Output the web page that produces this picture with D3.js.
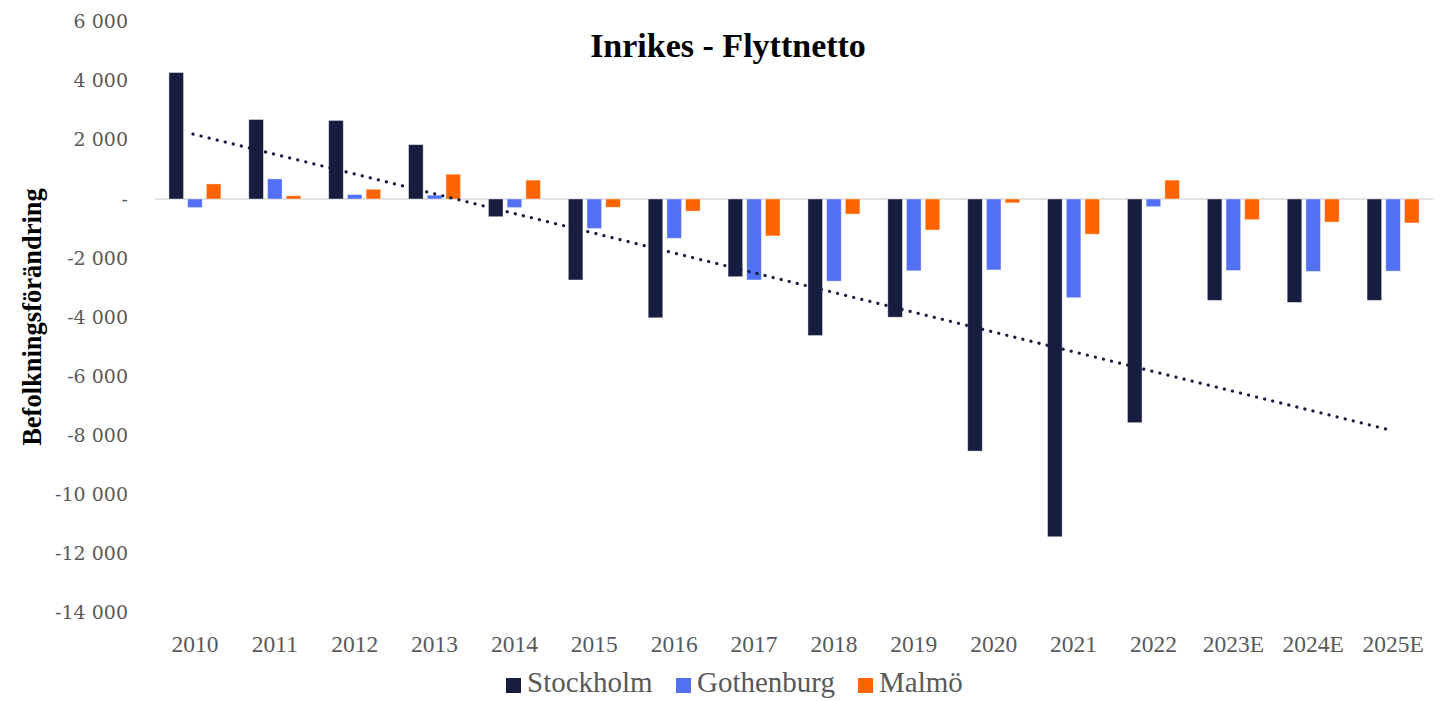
<!DOCTYPE html>
<html>
<head>
<meta charset="utf-8">
<script src="https://cdn.jsdelivr.net/npm/d3@7"></script>
<style>
  body { margin: 0; background: #fff; }
</style>
</head>
<body>
<div id="chart"></div>
<script>
  var years = ["2010", "2011", "2012", "2013", "2014", "2015", "2016", "2017",
    "2018", "2019", "2020", "2021", "2022", "2023E", "2024E", "2025E"];
  var seriesNames = ["Stockholm", "Gothenburg", "Malmö"];
  var stockholm = [4280, 2690, 2660, 1840, -600, -2740, -4020, -2630,
    -4620, -4000, -8530, -11430, -7570, -3430, -3500, -3430];
  var gothenburg = [-290, 680, 150, 130, -290, -1000, -1330, -2740,
    -2780, -2430, -2400, -3340, -260, -2420, -2450, -2440];
  var malmo = [510, 110, 330, 840, 640, -280, -410, -1250,
    -510, -1050, -130, -1190, 640, -700, -780, -810];
  var yTicks = [6000, 4000, 2000, 0, -2000, -4000, -6000, -8000, -10000, -12000, -14000];
  var colors = ["#171d3e", "#5170f3", "#ff6400"];

  var width = 1445,
    height = 701;

  var svg = d3.select("#chart").append("svg")
    .attr("width", width)
    .attr("height", height);

  var x = d3.scaleBand()
    .domain(years)
    .range([155, 1433])
    .paddingInner(0)
    .paddingOuter(0);

  var y = d3.scaleLinear()
    .domain([-14000, 6000])
    .range([612.7, 21.7]);

  var xSub = d3.scaleBand()
    .domain(seriesNames)
    .range([-26, 26])
    .paddingInner(0.22)
    .paddingOuter(0);

  var fmt = function(d) {
    if (d === 0) return "-";
    return (d < 0 ? "-" : "") + d3.format(",")(Math.abs(d)).replace(/,/g, " ");
  };

  // y tick labels (no axis line in the original)
  var yAxis = svg.append("g")
    .attr("transform", "translate(128,0)")
    .call(d3.axisLeft(y).tickValues(yTicks).tickFormat(fmt).tickSize(0).tickPadding(0));
  yAxis.select(".domain").remove();
  yAxis.selectAll("text")
    .attr("font-family", "'DejaVu Serif', serif")
    .attr("font-size", "19px")
    .attr("fill", "#595959");

  // zero line
  svg.append("line")
    .attr("x1", x.range()[0])
    .attr("x2", x.range()[1])
    .attr("y1", y(0))
    .attr("y2", y(0))
    .attr("stroke", "#d9d9d9")
    .attr("stroke-width", 1.5);

  var rows = years.map(function(yr, i) {
    return { year: yr, values: [stockholm[i], gothenburg[i], malmo[i]] };
  });

  var groups = svg.append("g")
    .selectAll("g")
    .data(rows)
    .enter().append("g")
      .attr("transform", function(d) { return "translate(" + (x(d.year) + x.bandwidth() / 2) + ",0)"; });

  groups.selectAll("rect")
    .data(function(d) { return d.values.map(function(v, j) { return { name: seriesNames[j], value: v, j: j }; }); })
    .enter().append("rect")
      .attr("x", function(d) { return xSub(d.name); })
      .attr("width", xSub.bandwidth())
      .attr("y", function(d) { return y(Math.max(0, d.value)); })
      .attr("height", function(d) { return Math.abs(y(d.value) - y(0)); })
      .attr("fill", function(d) { return colors[d.j]; })
      .attr("stroke", "#ffffff")
      .attr("stroke-opacity", 0.5)
      .attr("stroke-width", 0.8);

  // linear trendline for Stockholm (least squares)
  var n = stockholm.length;
  var mx = d3.mean(d3.range(n)), my = d3.mean(stockholm);
  var sxy = d3.sum(stockholm, function(v, i) { return (i - mx) * (v - my); });
  var sxx = d3.sum(d3.range(n), function(i) { return (i - mx) * (i - mx); });
  var slope = sxy / sxx, icpt = my - slope * mx;

  var trend = [0, n - 1].map(function(i) {
    return [x(years[i]) + x.bandwidth() / 2 - 2, y(icpt + slope * i)];
  });

  svg.append("path")
    .attr("d", d3.line()(trend))
    .attr("fill", "none")
    .attr("stroke", "#171d3e")
    .attr("stroke-width", 3.2)
    .attr("stroke-linecap", "round")
    .attr("stroke-dasharray", "0.1 8.2");

  // x labels
  var xAxis = svg.append("g")
    .attr("transform", "translate(0,652)")
    .call(d3.axisBottom(x).tickSize(0).tickPadding(0));
  xAxis.select(".domain").remove();
  xAxis.selectAll("text")
    .attr("font-family", "'Liberation Serif', serif")
    .attr("font-size", "23.5px")
    .attr("fill", "#595959")
    .attr("dy", "0");

  // title
  svg.append("text")
    .attr("x", 728)
    .attr("y", 57)
    .attr("text-anchor", "middle")
    .attr("font-family", "'Liberation Serif', serif")
    .attr("font-weight", "bold")
    .attr("font-size", "34px")
    .attr("fill", "#000")
    .text("Inrikes - Flyttnetto");

  // y axis title
  svg.append("text")
    .attr("transform", "translate(41,317) rotate(-90)")
    .attr("text-anchor", "middle")
    .attr("font-family", "'Liberation Serif', serif")
    .attr("font-weight", "bold")
    .attr("font-size", "26.5px")
    .attr("fill", "#000")
    .text("Befolkningsförändring");

  // legend
  var legendX = [506, 676, 858];
  var legend = svg.append("g")
    .selectAll("g")
    .data(seriesNames)
    .enter().append("g")
      .attr("transform", function(d, i) { return "translate(" + legendX[i] + ",0)"; });

  legend.append("rect")
    .attr("x", 0)
    .attr("y", 678)
    .attr("width", 15)
    .attr("height", 15)
    .attr("fill", function(d, i) { return colors[i]; });

  legend.append("text")
    .attr("x", 21)
    .attr("y", 692)
    .attr("font-family", "'Liberation Serif', serif")
    .attr("font-size", "29px")
    .attr("fill", "#595959")
    .text(function(d) { return d; });
</script>
</body>
</html>
